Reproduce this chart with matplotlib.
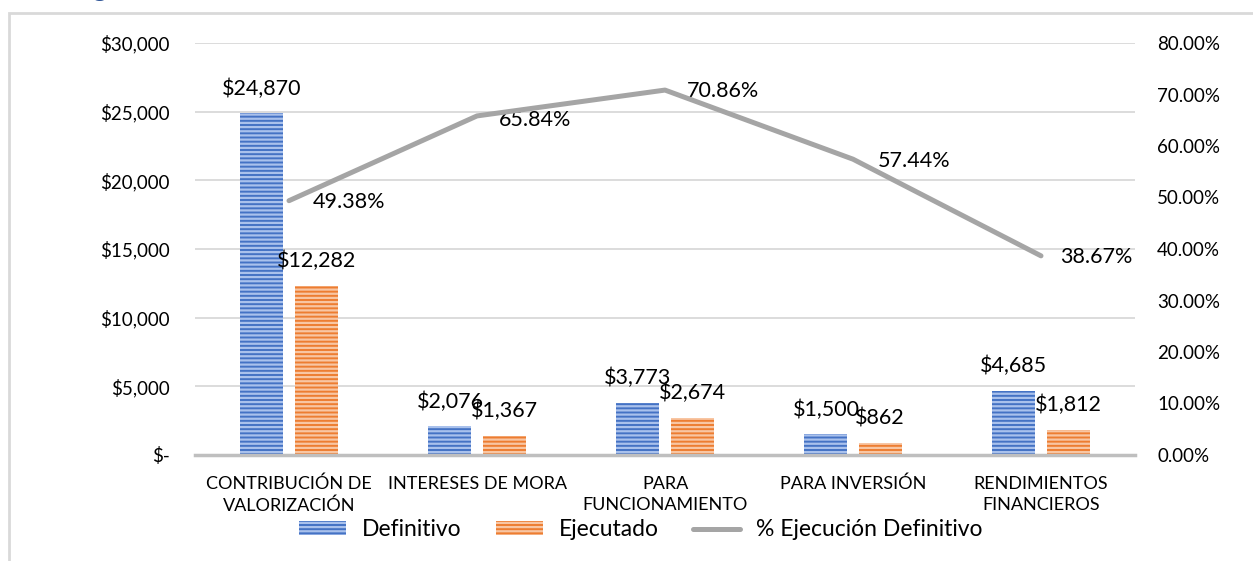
import numpy as np
import matplotlib.pyplot as plt
from matplotlib.patches import Rectangle
from matplotlib.ticker import FuncFormatter, MultipleLocator

plt.rcParams['font.family'] = ['Lato', 'DejaVu Sans']
plt.rcParams['hatch.linewidth'] = 1.6

# Data
categories = ["CONTRIBUCIÓN DE\nVALORIZACIÓN", "INTERESES DE MORA", "PARA\nFUNCIONAMIENTO",
              "PARA INVERSIÓN", "RENDIMIENTOS\nFINANCIEROS"]
definitivo = [24870, 2076, 3773, 1500, 4685]
ejecutado = [12282, 1367, 2674, 862, 1812]
pct_ejecucion = [49.38, 65.84, 70.86, 57.44, 38.67]

# label offsets for the % labels (points)
pct_offsets = [(17, -1), (16, -3), (16, -1), (18, -1), (14, -1)]

blue = '#4472c4'
orange = '#ed7d31'
gray = '#a5a5a5'

fig = plt.figure(figsize=(12.53, 5.61), dpi=100)
ax = fig.add_axes([195/1253, 1 - 455/561, 940/1253, 412/561])
ax2 = ax.twinx()

x = np.arange(len(categories))
w = 0.229
off = 0.144

b1 = ax.bar(x - off, definitivo, w, color=blue, edgecolor='#a9c1ec', hatch='----',
            linewidth=0, label='Definitivo', zorder=3)
b2 = ax.bar(x + off, ejecutado, w, color=orange, edgecolor='#f8c6a3', hatch='----',
            linewidth=0, label='Ejecutado', zorder=3)

for bars, vals in [(b1, definitivo), (b2, ejecutado)]:
    for r, v in zip(bars, vals):
        ax.annotate(f"${v:,}", (r.get_x() + r.get_width()/2, v), xytext=(0, 18),
                    textcoords='offset points', ha='center', va='center', fontsize=15.5)

ln, = ax2.plot(x, pct_ejecucion, color=gray, lw=3.6, solid_capstyle='round',
               label='% Ejecución Definitivo', zorder=4)
for xi, p, (dx, dy) in zip(x, pct_ejecucion, pct_offsets):
    ax2.annotate(f"{p:.2f}%", (xi, p), xytext=(dx, dy), textcoords='offset points',
                 ha='left', va='center', fontsize=15.5)

ax.set_xlim(-0.5, len(categories) - 0.5)
ax.set_ylim(0, 30000)
ax2.set_ylim(0, 80)
ax.yaxis.set_major_locator(MultipleLocator(5000))
ax2.yaxis.set_major_locator(MultipleLocator(10))
ax.yaxis.set_major_formatter(FuncFormatter(lambda v, p: "$-" if v == 0 else f"${v:,.0f}"))
ax2.yaxis.set_major_formatter(FuncFormatter(lambda v, p: f"{v:.2f}%"))

ax.set_xticks(x)
ax.set_xticklabels(categories, fontsize=13, linespacing=1.4)
ax.tick_params(axis='x', length=0, pad=15)
ax.tick_params(axis='y', length=0, pad=18, labelsize=13.5)
ax2.tick_params(axis='y', length=0, pad=16, labelsize=13.5)

ax.grid(axis='y', color='#d9d9d9', lw=1.3, zorder=0)
ax.set_axisbelow(True)
for a in (ax, ax2):
    for s in ['top', 'left', 'right']:
        a.spines[s].set_visible(False)
ax.spines['bottom'].set_color('#bfbfbf')
ax.spines['bottom'].set_linewidth(2.5)
ax.spines['bottom'].set_zorder(5)
ax2.spines['bottom'].set_visible(False)

fig.legend(handles=[b1, b2, ln], loc='center', bbox_to_anchor=(641/1253, 1 - 530/561),
           ncol=3, frameon=False, fontsize=16.5, handlelength=2.05, handleheight=0.55,
           handletextpad=0.7, columnspacing=1.5)

# chart frame and cut-off title
fig.patches.append(Rectangle((9/1253, -0.1), 1.2, 1 - 13/561 + 0.1, transform=fig.transFigure,
                             fill=False, edgecolor='#d9d9d9', lw=2))
fig.text(70/1253, 1 + 4/561, "Ingresos", color='#2f5597', fontsize=20, fontweight='bold',
         ha='left', va='baseline')

fig.savefig('out.png', dpi=100)
